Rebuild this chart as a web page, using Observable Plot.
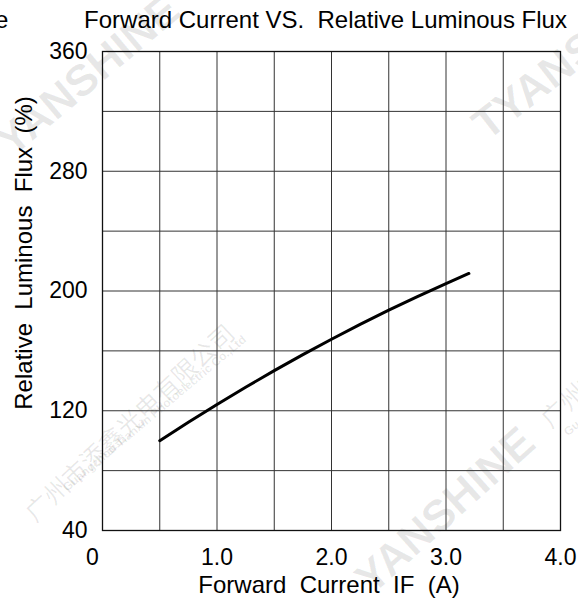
<!DOCTYPE html>
<html>
<head>
<meta charset="utf-8">
<script src="https://cdn.jsdelivr.net/npm/d3@7"></script>
<script src="https://cdn.jsdelivr.net/npm/@observablehq/plot@0.6"></script>
<style>
  html, body { margin: 0; padding: 0; background: #fff; }
  svg text { white-space: pre; }
</style>
</head>
<body>
<div id="chart"></div>
<script>
// Data
const currentA = [0.5, 0.75, 1.0, 1.25, 1.5, 1.75, 2.0, 2.25, 2.5, 2.75, 3.0, 3.2];
const fluxPct  = [100, 112.3, 124.2, 135.7, 146.8, 157.5, 167.8, 177.7, 187.2, 196.3, 205.0, 211.7];

// Tick labels and grid
const xTickValues = [1, 2, 3, 4];
const xZeroTick = [0];
const yTickValues = [40, 120, 200, 280, 360];
const xGridValues = [0.5, 1, 1.5, 2, 2.5, 3, 3.5];
const yGridValues = [80, 120, 160, 200, 240, 280, 320];

const titleText = "Forward Current VS.  Relative Luminous Flux";
const xLabelText = "Forward  Current  IF  (A)";
const yLabelText = "Relative  Luminous  Flux  (%)";
const strayText = "e";

// Faint watermarks in the reference
const wmBrand = "YANSHINE";
const wmBrandCut = "TYANSHINE";
const wmCompanyZh = "广州市添鑫光电有限公司";
const wmCompanyEn = "Guangzhou Tianxin Photoelectric Co.,Ltd";

const rows = currentA.map((x, i) => ({x, y: fluxPct[i]}));
const font = "'Liberation Sans', Arial, Helvetica, sans-serif";
const cjk = "'Noto Sans CJK SC', 'Noto Sans', sans-serif";
const wm = {fill: "#000", fillOpacity: 0.09, lineAnchor: "middle", frameAnchor: "top-left"};

const chart = Plot.plot({
  width: 578,
  height: 598,
  marginLeft: 102,
  marginRight: 18,
  marginTop: 51,
  marginBottom: 68,
  style: {fontFamily: font, background: "#fff", color: "#000", fontSize: "23px"},
  x: {domain: [0, 4]},
  y: {domain: [40, 360]},
  marks: [
    // watermarks (decoration)
    Plot.text([wmBrand], {...wm, textAnchor: "middle", rotate: -40, dx: -14, dy: 24, fontSize: 44, fontWeight: "bold"}),
    Plot.text([wmBrand], {...wm, textAnchor: "middle", rotate: -42, dx: 343, dy: 459, fontSize: 44, fontWeight: "bold"}),
    Plot.text([wmBrandCut], {...wm, textAnchor: "start", rotate: -38, dx: 376, dy: 79, fontSize: 44, fontWeight: "bold"}),
    Plot.text([wmCompanyZh], {...wm, textAnchor: "middle", rotate: -43, dx: 28, dy: 372, fontSize: 25, fontFamily: cjk}),
    Plot.text([wmCompanyEn], {...wm, textAnchor: "middle", rotate: -40, dx: 52, dy: 362, fontSize: 12, fontWeight: "bold"}),
    Plot.text([wmCompanyZh], {...wm, textAnchor: "start", rotate: -43, dx: 443, dy: 372, fontSize: 25, fontFamily: cjk}),
    Plot.text([wmCompanyEn], {...wm, textAnchor: "start", rotate: -40, dx: 463, dy: 382, fontSize: 12, fontWeight: "bold"}),
    // grid and frame
    Plot.ruleX(xGridValues, {stroke: "#333", strokeWidth: 1}),
    Plot.ruleY(yGridValues, {stroke: "#333", strokeWidth: 1}),
    Plot.frame({stroke: "#111", strokeWidth: 1.3}),
    // axes
    Plot.axisX(xTickValues, {tickSize: 0, tickPadding: 18, fontSize: 23, tickFormat: d => d.toFixed(1), label: null}),
    Plot.axisX(xZeroTick, {tickSize: 0, tickPadding: 18, fontSize: 23, dx: -10, tickFormat: d => String(d), label: null}),
    Plot.axisY(yTickValues, {tickSize: 0, tickPadding: 15, fontSize: 23, label: null}),
    // curve
    Plot.line(rows, {x: "x", y: "y", curve: "monotone-x", stroke: "#000", strokeWidth: 3}),
    // titles
    Plot.text([titleText], {frameAnchor: "top", lineAnchor: "middle", dx: -6, dy: -31, fontSize: 24, fill: "#000"}),
    Plot.text([strayText], {frameAnchor: "top-left", lineAnchor: "middle", textAnchor: "start", dx: -107.5, dy: -31, fontSize: 24, fill: "#000"}),
    Plot.text([xLabelText], {frameAnchor: "bottom", lineAnchor: "middle", dx: -2.5, dy: 54.5, fontSize: 24, fill: "#000"}),
    Plot.text([yLabelText], {frameAnchor: "left", lineAnchor: "middle", textAnchor: "middle", rotate: -90, dx: -78, dy: -38, fontSize: 24, fill: "#000"})
  ]
});
document.getElementById("chart").appendChild(chart);
</script>
</body>
</html>
